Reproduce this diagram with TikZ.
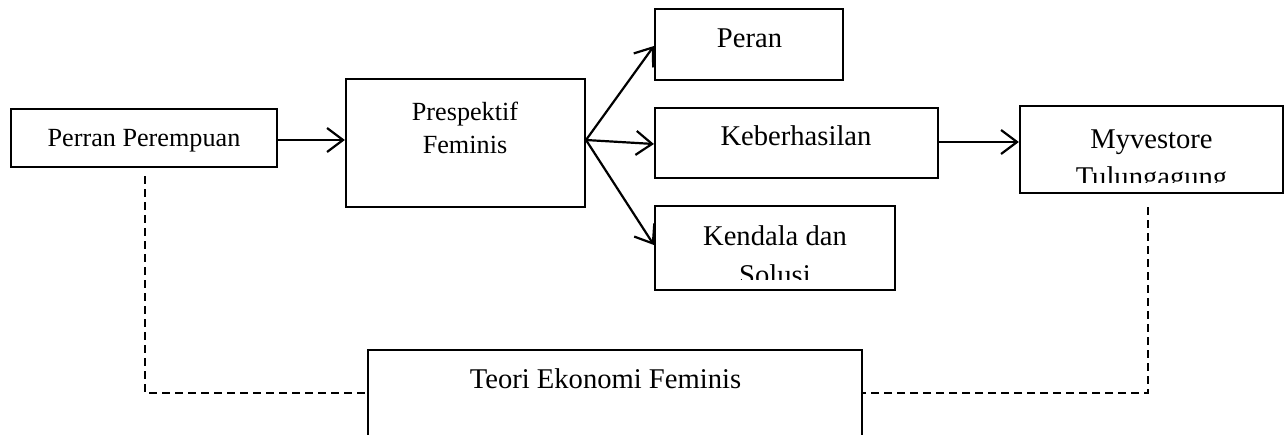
\documentclass[tikz,border=0pt]{standalone}
\usepackage{fontspec}
\setmainfont{Liberation Serif}
\usetikzlibrary{arrows.meta}
\begin{document}
\begin{tikzpicture}[x=1pt,y=-1pt,
  box/.style={draw, line width=2.2pt, inner sep=0pt},
  lbl/.style={inner sep=0pt, anchor=base, font=\fontsize{28.6}{34}\selectfont},
  lbls/.style={inner sep=0pt, anchor=base, font=\fontsize{26.2}{32}\selectfont},
  arr/.style={line width=2.2pt, -{Straight Barb[length=16pt,width=24pt,line width=2.2pt]}},
  dsh/.style={line width=1.7pt, dash pattern=on 8pt off 5pt}]
\clip (0,0) rectangle (1288,434);
\fill[white] (0,0) rectangle (1288,434);
% boxes
\node[box, minimum width=266pt, minimum height=58pt] (perran) at (144,138) {};
\node[box, minimum width=239pt, minimum height=128pt] (prep) at (465.5,143) {};
\node[box, minimum width=188pt, minimum height=71pt] (peran) at (749,44.5) {};
\node[box, minimum width=283pt, minimum height=70pt] (keber) at (796.5,143) {};
\node[box, minimum width=240pt, minimum height=84pt] (kendala) at (775,248) {};
\node[box, minimum width=263pt, minimum height=87pt] (myve) at (1151.5,149.5) {};
\node[box, minimum width=494pt, minimum height=100pt] (teori) at (615,400) {};
% texts
\node[lbls] (tperran) at (144,146) {Perran Perempuan};
\node[lbls] (tprep1) at (465,120) {Prespektif};
\node[lbls] (tprep2) at (465,153) {Feminis};
\node[lbl] (tperan) at (749.5,47) {Peran};
\node[lbl] (tkeber) at (796,145) {Keberhasilan};
\begin{scope}
  \clip (656,207) rectangle (894,279);
  \node[lbl] (tkend1) at (775,245) {Kendala dan};
  \node[lbl] (tkend2) at (775,284) {Solusi};
\end{scope}
\begin{scope}
  \clip (1021,107) rectangle (1282,182);
  \node[lbl] (tmyve1) at (1151.5,148) {Myvestore};
  \node[lbl] (tmyve2) at (1151.5,186) {Tulungagung};
\end{scope}
\node[lbl] (tteori) at (605.5,388) {Teori Ekonomi Feminis};
% arrows
\coordinate (ps) at (586,140);
\draw[arr] (perran.east |- 0,140) -- (prep.west |- 0,140);
\draw[arr] (ps) -- (peran.west |- 0,46);
\draw[arr] (ps) -- (keber.west |- 0,144);
\draw[arr] (ps) -- (kendala.west |- 0,245);
\draw[arr] (keber.east |- 0,142) -- (myve.west |- 0,142);
% dashed links
\coordinate (dl) at (145,176);
\coordinate (dr) at (1148,207);
\draw[dsh] (dl) |- (teori.west |- 0,393);
\draw[dsh] (dr) |- (teori.east |- 0,393);
\end{tikzpicture}
\end{document}
